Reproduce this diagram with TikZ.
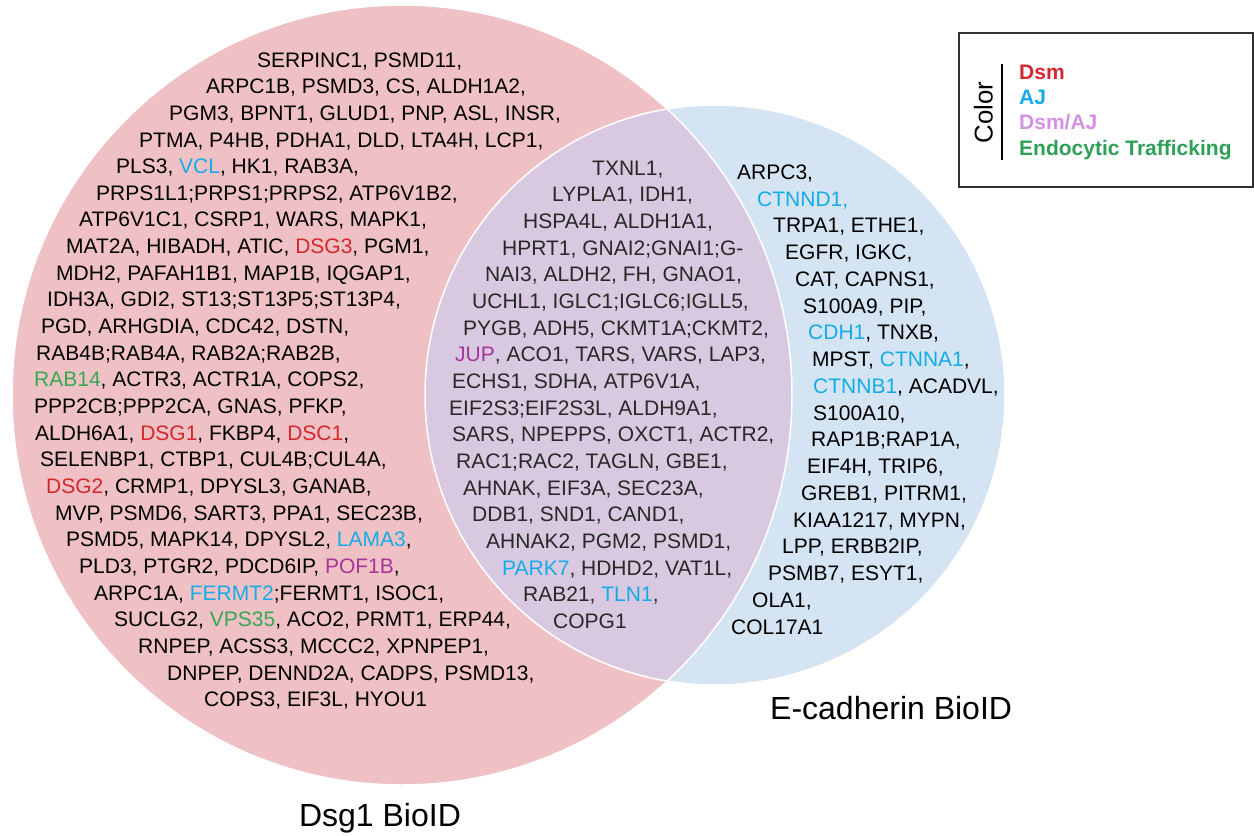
\documentclass[tikz,border=0pt]{standalone}
\usepackage{xcolor}
\usepackage{fontspec}
\setmainfont{Liberation Sans}
\usepackage{tikz}

\definecolor{dsgpink}{RGB}{239,193,196}
\definecolor{ecadblue}{RGB}{212,228,243}
\definecolor{overlapmauve}{RGB}{217,201,224}
\definecolor{dsmred}{RGB}{214,38,46}
\definecolor{ajblue}{RGB}{20,172,232}
\definecolor{bothpurple}{RGB}{166,53,156}
\definecolor{endogreen}{RGB}{52,168,83}
\definecolor{keypurple}{RGB}{210,145,225}
\definecolor{keygreen}{RGB}{45,160,85}
\definecolor{midgray}{RGB}{40,40,40}
\definecolor{framegray}{RGB}{50,50,50}

\newcommand{\dsmg}[1]{\textcolor{dsmred}{#1}}
\newcommand{\ajg}[1]{\textcolor{ajblue}{#1}}
\newcommand{\bothg}[1]{\textcolor{bothpurple}{#1}}
\newcommand{\trafg}[1]{\textcolor{endogreen}{#1}}
\newcommand{\genefont}{\fontsize{21}{25}\selectfont}

\begin{document}
\begin{tikzpicture}[x=1pt, y=-1pt,
  gene/.style={inner sep=0, anchor=base west, font=\genefont},
  midgene/.style={gene, text=midgray},
  setname/.style={inner sep=0, anchor=base, font=\fontsize{32}{36}\selectfont},
  keyitem/.style={inner sep=0, anchor=base west, font=\fontsize{21}{24}\selectfont\bfseries}]
  \useasboundingbox (0,0) rectangle (1254,836);

  % Venn circles
  \node[circle, fill=dsgpink, minimum size=780pt, inner sep=0] (dsg) at (402,395) {};
  \node[circle, fill=ecadblue, minimum size=580pt, inner sep=0] (ecad) at (715,395) {};
  \begin{scope}
    \clip (402,395) circle[radius=390pt];
    \fill[overlapmauve] (715,395) circle[radius=290pt];
  \end{scope}
  \draw[white, line width=1.5pt] (dsg.center) circle[radius=390pt];
  \draw[white, line width=1.5pt] (ecad.center) circle[radius=290pt];

  % Dsg1 only
  \node[gene] (L1) at (257,67) {SERPINC1, PSMD11,};
  \node[gene] (L2) at (206,93.7) {ARPC1B, PSMD3, CS, ALDH1A2,};
  \node[gene] (L3) at (169,120.3) {PGM3, BPNT1, GLUD1, PNP, ASL, INSR,};
  \node[gene] (L4) at (139,147) {PTMA, P4HB, PDHA1, DLD, LTA4H, LCP1,};
  \node[gene] (L5) at (116,173.6) {PLS3, \ajg{VCL}, HK1, RAB3A,};
  \node[gene] (L6) at (96,200.3) {PRPS1L1;PRPS1;PRPS2, ATP6V1B2,};
  \node[gene] (L7) at (79,226.9) {ATP6V1C1, CSRP1, WARS, MAPK1,};
  \node[gene] (L8) at (66,253.6) {MAT2A, HIBADH, ATIC, \dsmg{DSG3}, PGM1,};
  \node[gene] (L9) at (56,280.2) {MDH2, PAFAH1B1, MAP1B, IQGAP1,};
  \node[gene] (L10) at (47,306.9) {IDH3A, GDI2, ST13;ST13P5;ST13P4,};
  \node[gene] (L11) at (41,333.5) {PGD, ARHGDIA, CDC42, DSTN,};
  \node[gene] (L12) at (36,360.2) {RAB4B;RAB4A, RAB2A;RAB2B,};
  \node[gene] (L13) at (34,386.8) {\trafg{RAB14}, ACTR3, ACTR1A, COPS2,};
  \node[gene] (L14) at (34,413.5) {PPP2CB;PPP2CA, GNAS, PFKP,};
  \node[gene] (L15) at (35,440.1) {ALDH6A1, \dsmg{DSG1}, FKBP4, \dsmg{DSC1},};
  \node[gene] (L16) at (40,466.8) {SELENBP1, CTBP1, CUL4B;CUL4A,};
  \node[gene] (L17) at (46,493.4) {\dsmg{DSG2}, CRMP1, DPYSL3, GANAB,};
  \node[gene] (L18) at (55,520.1) {MVP, PSMD6, SART3, PPA1, SEC23B,};
  \node[gene] (L19) at (66,546.7) {PSMD5, MAPK14, DPYSL2, \ajg{LAMA3},};
  \node[gene] (L20) at (79,573.4) {PLD3, PTGR2, PDCD6IP, \bothg{POF1B},};
  \node[gene] (L21) at (94,600) {ARPC1A, \ajg{FERMT2};FERMT1, ISOC1,};
  \node[gene] (L22) at (114,626.7) {SUCLG2, \trafg{VPS35}, ACO2, PRMT1, ERP44,};
  \node[gene] (L23) at (138,653.3) {RNPEP, ACSS3, MCCC2, XPNPEP1,};
  \node[gene] (L24) at (167,680) {DNPEP, DENND2A, CADPS, PSMD13,};
  \node[gene] (L25) at (204,706.6) {COPS3, EIF3L, HYOU1};

  % shared
  \node[midgene] (M1) at (592,175) {TXNL1,};
  \node[midgene] (M2) at (552,201.7) {LYPLA1, IDH1,};
  \node[midgene] (M3) at (523,228.3) {HSPA4L, ALDH1A1,};
  \node[midgene] (M4) at (502,255) {HPRT1, GNAI2;GNAI1;G-};
  \node[midgene] (M5) at (485,281.7) {NAI3, ALDH2, FH, GNAO1,};
  \node[midgene] (M6) at (472,308.4) {UCHL1, IGLC1;IGLC6;IGLL5,};
  \node[midgene] (M7) at (463,335) {PYGB, ADH5, CKMT1A;CKMT2,};
  \node[midgene] (M8) at (455,361.7) {\bothg{JUP}, ACO1, TARS, VARS, LAP3,};
  \node[midgene] (M9) at (452,388.4) {ECHS1, SDHA, ATP6V1A,};
  \node[midgene] (M10) at (449,415) {EIF2S3;EIF2S3L, ALDH9A1,};
  \node[midgene] (M11) at (452,441.7) {SARS, NPEPPS, OXCT1, ACTR2,};
  \node[midgene] (M12) at (456,468.4) {RAC1;RAC2, TAGLN, GBE1,};
  \node[midgene] (M13) at (463,495) {AHNAK, EIF3A, SEC23A,};
  \node[midgene] (M14) at (472,521.7) {DDB1, SND1, CAND1,};
  \node[midgene] (M15) at (486,548.4) {AHNAK2, PGM2, PSMD1,};
  \node[midgene] (M16) at (502,575) {\ajg{PARK7}, HDHD2, VAT1L,};
  \node[midgene] (M17) at (523,601.7) {RAB21, \ajg{TLN1},};
  \node[midgene] (M18) at (553,628.4) {COPG1};

  % E-cadherin only
  \node[gene] (R1) at (737,179.3) {ARPC3,};
  \node[gene] (R2) at (757,206.1) {\ajg{CTNND1,}};
  \node[gene] (R3) at (773,232.8) {TRPA1, ETHE1,};
  \node[gene] (R4) at (785,259.6) {EGFR, IGKC,};
  \node[gene] (R5) at (795,286.3) {CAT, CAPNS1,};
  \node[gene] (R6) at (803,313.1) {S100A9, PIP,};
  \node[gene] (R7) at (808,339.8) {\ajg{CDH1}, TNXB,};
  \node[gene] (R8) at (812,366.6) {MPST, \ajg{CTNNA1},};
  \node[gene] (R9) at (813,393.3) {\ajg{CTNNB1}, ACADVL,};
  \node[gene] (R10) at (813,420.1) {S100A10,};
  \node[gene] (R11) at (811,446.8) {RAP1B;RAP1A,};
  \node[gene] (R12) at (807,473.6) {EIF4H, TRIP6,};
  \node[gene] (R13) at (801,500.3) {GREB1, PITRM1,};
  \node[gene] (R14) at (793,527.1) {KIAA1217, MYPN,};
  \node[gene] (R15) at (782,553.8) {LPP, ERBB2IP,};
  \node[gene] (R16) at (768,580.6) {PSMB7, ESYT1,};
  \node[gene] (R17) at (752,607.3) {OLA1,};
  \node[gene] (R18) at (731,634.1) {COL17A1};

  % set names
  \node[setname] (dsgname) at (380,826) {Dsg1 BioID};
  \node[setname, anchor=base west] (ecadname) at (770,719) {E-cadherin BioID};

  % colour key
  \node[draw=framegray, line width=2.2pt, minimum width=294pt, minimum height=154pt,
        inner sep=0, anchor=north west] (key) at (958,32) {};
  \node[inner sep=0, anchor=base, rotate=90, font=\fontsize{25.8}{30}\selectfont] (keytitle) at (992.7,112.5) {Color};
  \coordinate (bartop) at (1002,64);
  \coordinate (barbot) at (1002,160);
  \draw[line width=2pt] (bartop) -- (barbot);
  \node[keyitem, text=dsmred] (kdsm) at (1019,79) {Dsm};
  \node[keyitem, text=ajblue] (kaj) at (1019,104.3) {AJ};
  \node[keyitem, text=keypurple] (kboth) at (1019,129.3) {Dsm/AJ};
  \node[keyitem, text=keygreen] (kendo) at (1019,155) {Endocytic Trafficking};
\end{tikzpicture}
\end{document}
